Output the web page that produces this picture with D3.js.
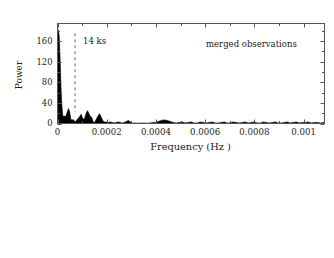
<!DOCTYPE html>
<html><head><meta charset="utf-8">
<script src="https://cdn.jsdelivr.net/npm/d3@7"></script>
<style>body{margin:0;background:#fff}svg{display:block}text{font-family:"DejaVu Serif",serif;fill:#222}</style>
</head><body><svg id="c" width="334" height="258"></svg>
<script>
// frequencies in micro-Hz, power values
const freqMicroHz = [0,2.8,6.9,11,14.2,17.1,20.3,23.2,27.2,31.3,35.4,39.4,44.7,49.6,53.7,57.7,63.8,67.9,74,80.1,88.2,96.3,102,109,115,122,127,133,139,145,151,157,165,171,178,184,190,198,206,215,223,231,239,247,255,263,271,280,288,296,304,316,328,340,352,365,377,389,401,409,422,434,446,458,470,483,495,507,519,531,543,556,568,580,592,604,617,629,641,653,665,678,690,702,714,726,739,751,763,775,787,800,812,824,836,848,861,873,885,897,909,922,934,946,958,970,983,995,1007,1019,1031,1044,1056,1068,1084];
const power = [150,182,170,120,70,40,20,12,15,13,16,22,29,22,10,6,8,5,4,8,12,18,10,8,18,25,20,14,12,3,2,8,15,19,12,6,3,3,2,3,2,1,2,3,2,1,2,4,6,3,1,1,0.5,1,1,0.5,1,2,2,4,6,7,6,4,2,1,2,3,1,2,3,1,1,3,2,1,2,3,1,1,2,3,1,1,3,2,1,2,3,1,2,3,1,1,3,2,1,2,3,1,1,2,3,1,2,3,1,2,2,3,1,2,2,1,2];
const xTicks = [0,0.0002,0.0004,0.0006,0.0008,0.001];
const xTickLabels = ["0","0.0002","0.0004","0.0006","0.0008","0.001"];
const yTicks = [0,40,80,120,160];
const markPeriodKs = 14;

const svg = d3.select("#c");
const x = d3.scaleLinear().domain([0,0.001085]).range([57.5,324.5]);
const y = d3.scaleLinear().domain([0,194]).range([123.5,23.5]);
const data = freqMicroHz.map((f,i)=>({f:f*1e-6,p:power[i]}));

svg.append("path").datum(data)
  .attr("d", d3.area().x(d=>x(d.f)).y0(y(0)).y1(d=>y(d.p)))
  .attr("fill","#000").attr("stroke","#000").attr("stroke-width",0.6);

// dashed line at 14 ks
const fm = 1/(markPeriodKs*1000);
svg.append("line").attr("x1",x(fm)).attr("x2",x(fm)).attr("y1",y(175)).attr("y2",y(22))
  .attr("stroke","#666").attr("stroke-dasharray","3,3");

// frame
svg.append("rect").attr("x",57.5).attr("y",23.5).attr("width",267).attr("height",100)
  .attr("fill","none").attr("stroke","#555").attr("stroke-width",1);

// ticks
const g = svg.append("g").attr("stroke","#555");
d3.range(0,0.00109,0.0001).forEach((t,i)=>{
  const L = i%2===0?4:2.5, px=Math.round(x(t))+0.5;
  g.append("line").attr("x1",px).attr("x2",px).attr("y1",y(0)).attr("y2",y(0)-L);
  g.append("line").attr("x1",px).attr("x2",px).attr("y1",23.5).attr("y2",23.5+L);
});
d3.range(0,194,20).forEach((t,i)=>{
  const L = i%2===0?4:2.5, py=Math.round(y(t))+0.5;
  g.append("line").attr("x1",57.5).attr("x2",57.5+L).attr("y1",py).attr("y2",py);
  g.append("line").attr("x1",324.5).attr("x2",324.5-L).attr("y1",py).attr("y2",py);
});

svg.selectAll(".xl").data(xTicks).enter().append("text")
  .attr("x",d=>x(d)).attr("y",134.5).attr("text-anchor","middle").attr("font-size","8.6px")
  .text((d,i)=>xTickLabels[i]);
svg.selectAll(".yl").data(yTicks).enter().append("text")
  .attr("x",52.5).attr("y",d=>y(d)).attr("dy","0.35em").attr("text-anchor","end").attr("font-size","8.4px")
  .text(d=>d);

svg.append("text").attr("x",190.5).attr("y",149.5).attr("text-anchor","middle").attr("font-size","9.8px")
  .text("Frequency (Hz )");
svg.append("text").attr("transform","translate(21.5,75) rotate(-90)").attr("text-anchor","middle").attr("font-size","9px")
  .text("Power");
svg.append("text").attr("x",83).attr("y",44).attr("font-size","8.5px").text("14 ks");
svg.append("text").attr("x",206).attr("y",47).attr("font-size","8.5px").text("merged observations");
</script></body></html>
